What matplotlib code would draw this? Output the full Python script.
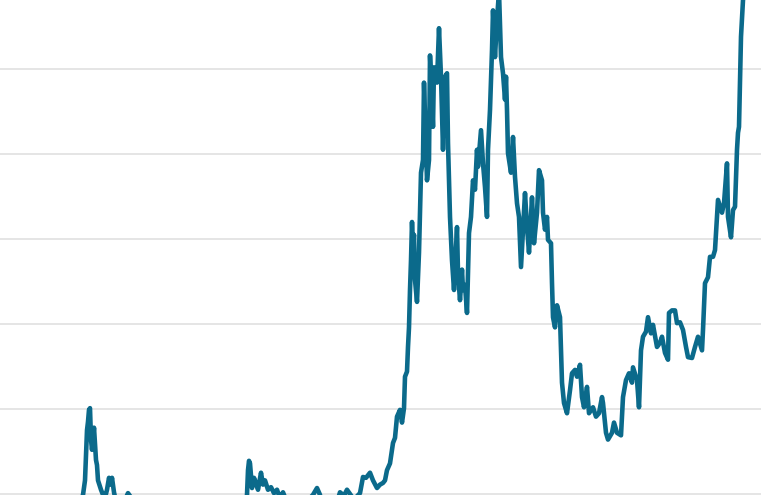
import matplotlib
matplotlib.use("Agg")
import matplotlib.pyplot as plt

# weeks since start of series, price in thousand USD (one line per stretch, same length)
weeks = [0, 15, 30, 37.5, 40,
         41.5, 42.5, 43.5, 44, 44.5, 45, 45.5, 46, 46.5, 47, 48, 48.5, 49,
         50.5, 51.5, 52, 53.5, 54.5, 55.5, 56, 57, 58, 62.5, 64, 65.5, 67.5,
         75, 90, 100, 112.5, 117.5, 121.5,
         123.5, 124, 124.5, 125, 125.5, 126, 127, 128, 129, 130.5, 131.5, 132.5,
         134, 135.5, 137, 138.5, 140, 141.5, 143, 147.5, 152.5, 156.5, 158.5, 160,
         160.5, 161.5, 163.5, 166, 168.5,
         170, 172, 173.5, 175, 176.5, 178, 180, 181.5, 183, 185, 186.5, 188.5,
         190, 191.5, 192.5, 193.5, 195, 196.5, 197.5, 198.5, 200, 201, 202, 202.5,
         203.5, 204, 204.5, 205, 205.5, 206, 206.5, 207, 207.5, 208.5, 209.5, 210.5,
         211.5, 212, 213.5, 214.5, 215, 216, 216.5, 217, 218.5, 219.5, 220.5, 221.5,
         222.5, 223.5, 224, 225, 226, 227, 228.5, 229, 230, 231, 231.5, 232.5,
         233.5, 234.5, 235.5, 236.5, 237.5, 238.5, 239, 240.5, 241.5, 242.5, 243.5, 244,
         245, 246, 246.5, 247.5, 248.5, 249.5, 250.5, 251.5, 252.5, 253, 253.5, 254,
         255.5, 256.5, 257.5, 258.5, 259.5, 260.5, 261.5, 262.5, 263.5, 264.5, 266, 267,
         268.5, 269.5, 271, 271.5, 272.5, 273.5, 274, 275.5, 276, 276.5, 277.5, 278.5,
         280, 281, 282, 283.5, 285, 286, 287.5, 288.5, 290, 291, 292, 293.5,
         294.5, 296.5, 298, 299.5, 301, 301.5, 303, 304, 306, 307, 308.5, 310.5,
         311.5, 313, 314.5, 316, 316.5, 318.5, 319.5, 320.5, 321.5, 323, 324, 325.5,
         326.5, 328.5, 330, 331, 332.5, 334, 334.5, 336, 337.5, 338.5, 340, 341.5,
         343, 344, 346, 347.5, 349, 351, 351.5, 352.5, 354, 355, 356.5, 357.5,
         358.5, 359, 361, 362, 363.5, 364, 365.5, 366.5, 367.5, 368.5, 369, 369.5,
         370, 370.5, 371.5, 373]
price = [1.0, 2.5, 4.5, 7.0, 9.0,
         9.9, 11.6, 17.5, 18.5, 19.9, 20.1, 16.4, 15.2, 16.4, 17.8, 14.0, 13.4, 11.6,
         10.5, 9.9, 9.1, 10.5, 11.9, 11.1, 11.9, 10.2, 9.1, 9.3, 10.1, 9.6, 8.1,
         6.5, 6.3, 4.0, 3.7, 5.0, 8.0,
         9.9, 12.8, 13.9, 13.6, 12.2, 10.7, 11.9, 11.3, 10.5, 12.5, 11.1, 11.6,
         10.5, 10.8, 10.1, 10.5, 9.5, 10.2, 9.3, 8.7, 8.9, 9.9, 10.7, 9.9,
         8.0, 5.5, 7.0, 7.5, 9.0,
         10.2, 9.8, 10.5, 10.0, 9.5, 9.6, 10.1, 12.0, 11.9, 12.5, 11.6, 10.7,
         11.1, 11.3, 11.6, 12.8, 13.6, 16.0, 16.6, 19.1, 19.9, 18.4, 20.1, 23.8,
         24.4, 27.3, 29.6, 34.0, 37.5, 42.0, 39.1, 40.5, 35.2, 32.6, 38.4, 47.8,
         49.3, 58.4, 46.9, 49.3, 61.6, 56.4, 53.2, 60.2, 58.4, 64.8, 59.1, 50.5,
         59.1, 59.5, 51.3, 42.6, 37.5, 34.0, 41.4, 36.0, 32.8, 36.4, 34.0, 34.6,
         31.3, 40.7, 42.6, 46.9, 45.8, 50.5, 48.5, 52.8, 48.9, 46.1, 42.6, 50.5,
         55.2, 62.2, 66.9, 61.4, 65.8, 69.1, 61.4, 59.5, 56.4, 59.1, 55.2, 50.1,
         47.8, 52.0, 47.3, 44.2, 42.6, 36.7, 41.1, 45.4, 41.4, 38.4, 44.9, 39.5,
         43.1, 48.1, 46.9, 43.1, 41.1, 42.6, 39.9, 39.5, 34.8, 30.8, 29.6, 32.2,
         30.8, 23.1, 20.7, 19.5, 22.2, 24.2, 24.6, 23.8, 25.2, 21.4, 20.2, 22.6,
         19.5, 20.2, 19.1, 19.5, 21.4, 20.7, 17.2, 16.4, 17.2, 18.4, 17.2, 16.9,
         21.4, 23.4, 24.2, 23.1, 24.9, 23.4, 20.2, 26.9, 28.5, 29.1, 30.8, 28.9,
         29.9, 27.3, 27.8, 28.5, 26.6, 25.8, 31.3, 31.6, 31.6, 30.1, 30.2, 29.3,
         27.3, 26.1, 26.0, 27.3, 28.5, 26.9, 29.3, 34.8, 35.5, 37.9, 37.9, 38.7,
         42.6, 44.6, 43.1, 44.2, 48.9, 42.6, 40.2, 43.4, 43.8, 50.5, 52.5, 53.2,
         58.4, 63.8, 68.1, 70.4]
grid_levels = [10, 20, 30, 40, 50, 60]

fig = plt.figure(figsize=(7.65, 4.95), dpi=100)
ax = fig.add_axes([0, 0, 761 / 765, 1])

for g in grid_levels:
    ax.axhline(g, color='#e3e3e3', lw=1.3, zorder=1)

ax.plot(weeks, price, color='#0b6a8b', lw=3.3, solid_joinstyle='round', zorder=3)

ax.set_xlim(0, 380.5)
ax.set_ylim(9.88, 68.12)
ax.axis('off')

fig.savefig('out.png', dpi=100)
